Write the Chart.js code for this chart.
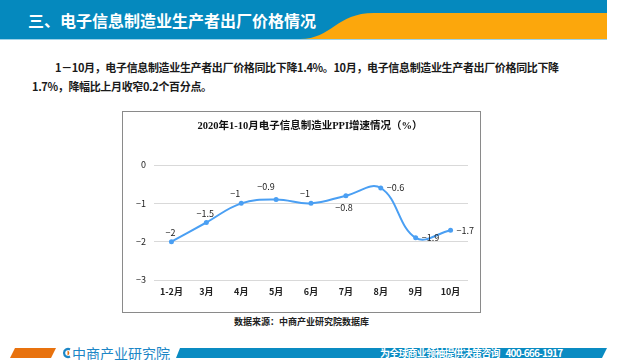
<!DOCTYPE html>
<html>
<head>
<meta charset="utf-8">
<script src="https://cdn.jsdelivr.net/npm/chart.js@4/dist/chart.umd.min.js"></script>
<style>
  html, body { margin: 0; padding: 0; background: #fff; }
  body { width: 640px; height: 360px; position: relative; overflow: hidden; font-family: "Noto Sans CJK SC", sans-serif; }
  .abs { position: absolute; white-space: nowrap; }
  #hdrTitle { left: 28px; top: 0; height: 41px; line-height: 41px; font-size: 16px; font-weight: bold; color: #fff; }
  .para { font-size: 11px; font-weight: bold; color: #1a1a1a; line-height: 14px; letter-spacing: -0.35px; }
  #box { left: 122px; top: 111px; width: 357px; height: 200px; border: 1px solid #8a8a8a; }
  #ctitle { left: 126px; width: 368px; top: 119px; text-align: center; font-family: "Liberation Serif", "Noto Sans CJK SC", serif; font-size: 10.5px; font-weight: bold; color: #111; line-height: 14px; }
  #source { left: 122px; width: 359px; top: 315px; text-align: center; font-size: 9px; font-weight: bold; color: #222; line-height: 14px; }
  #logoText { left: 72px; top: 344px; font-size: 14px; color: #1c86c6; line-height: 18px; letter-spacing: 0px; }
  #slogan { left: 380px; top: 346px; font-size: 10px; font-weight: bold; color: #fff; line-height: 14px; letter-spacing: -0.8px; }
</style>
</head>
<body>
<svg class="abs" style="left:0;top:0" width="640" height="360">
  <rect x="0" y="0" width="607" height="39" fill="#0589be"/>
  <rect x="0" y="39" width="607" height="1" fill="#9fd2e8"/>
  <path d="M 300 39 C 332 39, 336 13, 374 13 L 607 13 L 607 39 Z" fill="#fca70c"/>
  <polygon points="15,348 56,348 51,358 10,358" fill="#e8720e"/>
  <polygon points="180,348 607,348 602,358 176,358" fill="#0a8bc2"/>
  <path d="M 70 349.5 A 4 4 0 1 0 70 356.5" fill="none" stroke="#1c86c6" stroke-width="2.2"/>
  <path d="M 67.5 350.5 A 2.6 2.6 0 0 1 67.5 355.5 Z" fill="#e8720e"/>
</svg>
<div id="hdrTitle" class="abs">三、电子信息制造业生产者出厂价格情况</div>
<div class="abs para" style="left:55px; top:60px;">1－10月，电子信息制造业生产者出厂价格同比下降1.4%。10月，电子信息制造业生产者出厂价格同比下降</div>
<div class="abs para" style="left:32px; top:79px;">1.7%，降幅比上月收窄0.2个百分点。</div>
<div id="box" class="abs"><canvas id="c" width="357" height="200"></canvas></div>
<div id="ctitle" class="abs">2020年1-10月电子信息制造业PPI增速情况（%）</div>
<div id="source" class="abs">数据来源：中商产业研究院数据库</div>
<div id="logoText" class="abs">中商产业研究院</div>
<div id="slogan" class="abs">为全球商业领袖提供决策咨询&nbsp;&nbsp;&nbsp;&nbsp;400-666-1917</div>
<script>
const categories = ['1-2月', '3月', '4月', '5月', '6月', '7月', '8月', '9月', '10月'];
const ppiGrowth = [-2, -1.5, -1, -0.9, -1, -0.8, -0.6, -1.9, -1.7];
const yTicks = [0, -1, -2, -3];
const labelPlacement = ['top', 'top', 'topleft', 'topleft2', 'topleft', 'bottom', 'right', 'right', 'right'];

const fontFamily = '"Noto Sans CJK SC", sans-serif';
const fmt = v => (v < 0 ? '\u2212' + Math.abs(v) : String(v));

const dataLabels = {
  id: 'dataLabels',
  afterDatasetsDraw(chart) {
    const ctx = chart.ctx;
    const meta = chart.getDatasetMeta(0);
    ctx.save();
    ctx.font = '9px ' + fontFamily;
    ctx.fillStyle = '#222';
    ctx.textBaseline = 'middle';
    meta.data.forEach((pt, i) => {
      const p = labelPlacement[i];
      let dx = 0, dy = 0, align = 'center';
      if (p === 'top') { dx = -1; dy = -9; }
      else if (p === 'topleft') { dx = -6; dy = -10; }
      else if (p === 'topleft2') { dx = -10; dy = -13; }
      else if (p === 'bottom') { dx = -2; dy = 12; }
      else if (p === 'right') { dx = 6; dy = 0; align = 'left'; }
      ctx.textAlign = align;
      ctx.fillText(fmt(ppiGrowth[i]), pt.x + dx, pt.y + dy);
    });
    ctx.restore();
  }
};

new Chart(document.getElementById('c'), {
  type: 'line',
  data: {
    labels: categories,
    datasets: [{
      data: ppiGrowth,
      borderColor: '#4a9ff3',
      backgroundColor: '#4a9ff3',
      borderWidth: 2,
      tension: 0.4,
      pointRadius: 2.5,
      pointBackgroundColor: '#4a9ff3',
      pointBorderWidth: 0,
      fill: false
    }]
  },
  options: {
    responsive: false,
    animation: false,
    devicePixelRatio: 1,
    layout: { padding: { top: 53, right: 12, bottom: 0, left: 0 } },
    plugins: { legend: { display: false }, title: { display: false }, tooltip: { enabled: false } },
    scales: {
      x: {
        offset: true,
        grid: { display: false, drawTicks: false },
        border: { display: false },
        ticks: { padding: 6, color: '#222', font: { family: fontFamily, size: 9, weight: 'bold' }, maxRotation: 0, autoSkip: false },
        afterFit: s => { s.height = 32; }
      },
      y: {
        min: -3, max: 0,
        afterBuildTicks: s => { s.ticks = yTicks.map(v => ({ value: v })); },
        grid: { color: '#d9d9d9', drawTicks: false, lineWidth: 1 },
        border: { display: false },
        ticks: { padding: 8, color: '#222', font: { family: fontFamily, size: 9 }, callback: v => fmt(v) },
        afterFit: s => { s.width = 31; }
      }
    }
  },
  plugins: [dataLabels]
});
</script>
</body>
</html>
